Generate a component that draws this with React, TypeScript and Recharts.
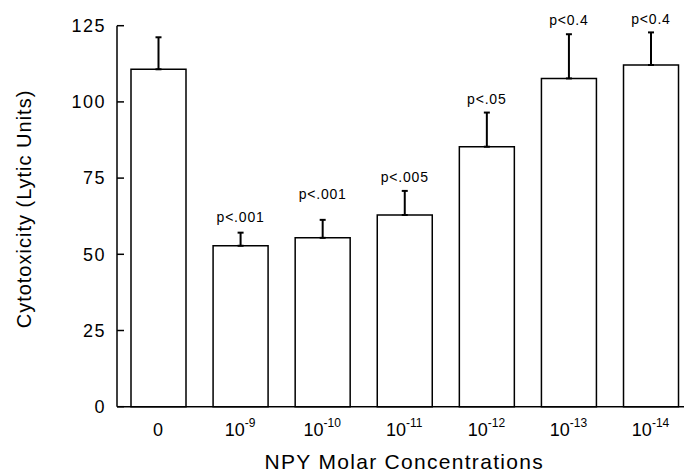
import React from "react";
import { BarChart, Bar, XAxis, YAxis, ErrorBar, LabelList, Label } from "recharts";

// NPY concentration groups (mean lytic units + upper SEM)
const categories = ["0", "10^-9", "10^-10", "10^-11", "10^-12", "10^-13", "10^-14"];
const cytotoxicity = [110.7, 52.8, 55.4, 62.9, 85.3, 107.7, 112.1];
const errors = [10.5, 4.3, 5.9, 7.9, 11.2, 14.5, 10.7];
const pValues = ["", "p<.001", "p<.001", "p<.005", "p<.05", "p<0.4", "p<0.4"];
const yTicks = [0, 25, 50, 75, 100, 125];

const data = categories.map((cat, i) => ({
  cat,
  value: cytotoxicity[i],
  err: [0, errors[i]],
  p: pValues[i],
}));

const FONT = "'Liberation Sans', Arial, Helvetica, sans-serif";
// gap between top of error bar and the p-value baseline
const labelGap = [0, 11, 21, 9, 9, 9, 8];

const XTick = (props: any) => {
  const { x, y, payload } = props;
  const [base, exp] = String(payload.value).split("^");
  return (
    <text x={x} y={y + 29.5} textAnchor="middle" fontFamily={FONT} fontSize={18} fill="#000">
      <tspan>{base}</tspan>
      {exp && (
        <tspan dy={-9} fontSize={12}>
          {exp}
        </tspan>
      )}
    </text>
  );
};

const PLabel = (props: any) => {
  const { x, y, width, height, value, index } = props;
  if (!value) return null;
  const perUnit = height / cytotoxicity[index];
  const yErr = y - errors[index] * perUnit;
  return (
    <text
      x={x + width / 2}
      y={yErr - labelGap[index]}
      textAnchor="middle"
      fontFamily={FONT}
      fontSize={14}
      letterSpacing={0.8}
      fill="#000"
    >
      {value}
    </text>
  );
};

export default function App() {
  return (
    <div style={{ position: "absolute", left: 0, top: 0, width: 684, height: 474, overflow: "hidden", background: "#fff" }}>
      <BarChart width={700} height={474} data={data} margin={{ top: 25.7, right: 8.4, left: 0, bottom: 7.3 }}>
        <XAxis
          dataKey="cat"
          interval={0}
          tickLine={false}
          tickSize={0}
          tickMargin={0}
          height={60}
          axisLine={{ stroke: "#000", strokeWidth: 1.5 }}
          tick={<XTick />}
        >
          <Label
            content={(p: any) => (
              <text
                x={p.viewBox.x + p.viewBox.width / 2}
                y={469}
                textAnchor="middle"
                fontFamily={FONT}
                fontSize={21}
                letterSpacing={1.3}
                fill="#000"
              >
                NPY Molar Concentrations
              </text>
            )}
          />
        </XAxis>
        <YAxis
          width={117}
          domain={[0, 125]}
          ticks={yTicks}
          interval={0}
          tickSize={-7}
          tickMargin={18}
          axisLine={{ stroke: "#000", strokeWidth: 1.5 }}
          tickLine={{ stroke: "#000", strokeWidth: 1.5 }}
          tick={{ fontFamily: FONT, fontSize: 18, fill: "#000", letterSpacing: 1.5 }}
        >
          <Label
            content={() => (
              <text
                x={31}
                y={209}
                transform="rotate(-90 31 209)"
                textAnchor="middle"
                fontFamily={FONT}
                fontSize={20}
                letterSpacing={1}
                fill="#000"
              >
                Cytotoxicity (Lytic Units)
              </text>
            )}
          />
        </YAxis>
        <Bar dataKey="value" barSize={55} fill="#fff" stroke="#000" strokeWidth={1.5} isAnimationActive={false}>
          <ErrorBar dataKey="err" direction="y" width={3} stroke="#000" strokeWidth={2} isAnimationActive={false} />
          <LabelList dataKey="p" content={<PLabel />} />
        </Bar>
      </BarChart>
    </div>
  );
}
